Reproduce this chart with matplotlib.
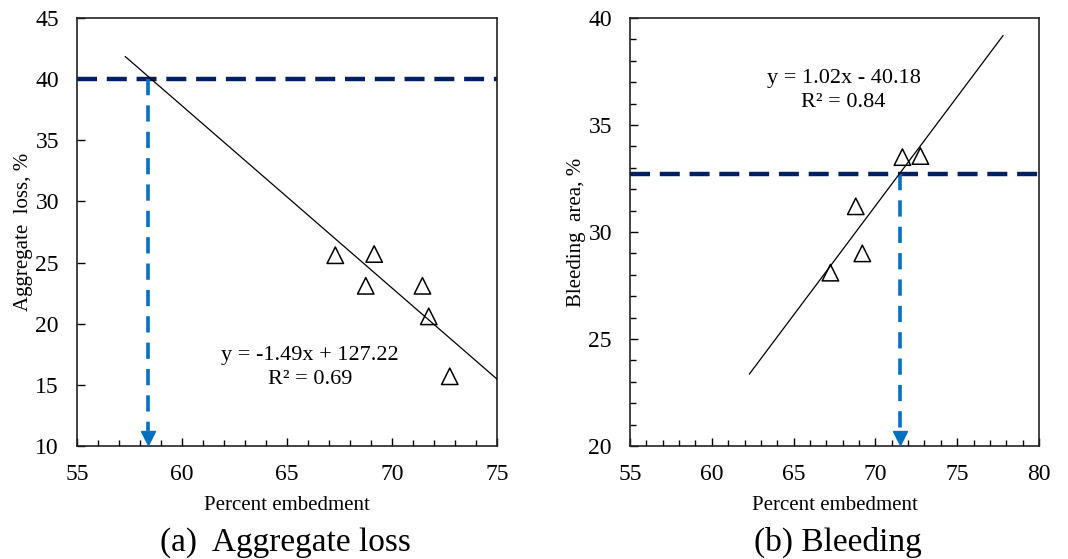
import matplotlib.pyplot as plt
from matplotlib.ticker import MultipleLocator

plt.rcParams['font.family'] = ['Liberation Serif', 'DejaVu Serif']

# (a) aggregate loss
agg_x = [67.3, 69.15, 68.75, 71.45, 71.75, 72.75]
agg_y = [25.6, 25.7, 23.1, 23.1, 20.6, 15.7]
agg_slope, agg_icpt = -1.49, 127.22
agg_fit_x = [57.3, 75.0]
agg_limit = 40
agg_embed = 58.4

# (b) bleeding
bld_x = [71.65, 72.75, 68.8, 69.2, 67.25]
bld_y = [33.5, 33.55, 31.2, 29.0, 28.1]
bld_slope, bld_icpt = 1.02, -40.18
bld_fit_x = [62.3, 77.8]
bld_limit = 32.7
bld_embed = 71.5

navy = '#002060'
blue = '#0070C0'

fig = plt.figure(figsize=(10.68, 5.59), dpi=100)
ax1 = fig.add_axes([77/1068, 113/559, 420/1068, 428/559])
ax2 = fig.add_axes([630/1068, 113/559, 409/1068, 428/559])


def panel(ax, xs, ys, slope, icpt, fit_x, limit, embed, xlim, ylim, ylabel, eq, eq_pos, caption, cap_x, yminor):
    fy = [slope * v + icpt for v in fit_x]
    ax.plot(fit_x, fy, color='black', lw=0.9, zorder=3)
    ax.scatter(xs, ys, marker='^', s=140, facecolors='none', edgecolors='black', linewidths=1.1, zorder=4)
    ax.plot(xlim, [limit, limit], color=navy, lw=3.2, dashes=(4.5, 2.2), zorder=2)
    ax.plot([embed, embed], [limit, ylim[0] + (ylim[1] - ylim[0]) * 0.02], color=blue, lw=2.6, dashes=(4.5, 2.8), zorder=2)
    ax.plot([embed], [ylim[0] + (ylim[1] - ylim[0]) * 0.018], marker='v', color=blue, ms=10, clip_on=False, zorder=5)
    ax.set_xlim(xlim)
    ax.set_ylim(ylim)
    ax.xaxis.set_major_locator(MultipleLocator(5))
    ax.xaxis.set_minor_locator(MultipleLocator(1))
    ax.yaxis.set_major_locator(MultipleLocator(5))
    if yminor:
        ax.yaxis.set_minor_locator(MultipleLocator(1))
    ax.tick_params(which='major', direction='in', length=6, width=1, labelsize=17, pad=13)
    ax.tick_params(which='minor', direction='in', length=4, width=1)
    for s in ax.spines.values():
        s.set_linewidth(1.2)
        s.set_color('#222222')
    ax.set_xlabel('Percent embedment', fontsize=15, labelpad=8)
    ax.set_ylabel(ylabel, fontsize=15, labelpad=2)
    ax.text(eq_pos[0], eq_pos[1], eq, fontsize=16, ha='center', va='center', linespacing=1.35)
    fig.text(cap_x, 0.03, caption, fontsize=24, ha='center', va='center')


panel(ax1, agg_x, agg_y, agg_slope, agg_icpt, agg_fit_x, agg_limit, agg_embed,
      (55, 75), (10, 45), 'Aggregate  loss, %',
      'y = -1.49x + 127.22\nR² = 0.69', (66.1, 16.4), '(a)  Aggregate loss', 285/1068, False)
panel(ax2, bld_x, bld_y, bld_slope, bld_icpt, bld_fit_x, bld_limit, bld_embed,
      (55, 80), (20, 40), 'Bleeding  area, %',
      'y = 1.02x - 40.18\nR² = 0.84', (68.05, 36.6), '(b) Bleeding', 838/1068, True)

fig.savefig('out.png', dpi=100)
